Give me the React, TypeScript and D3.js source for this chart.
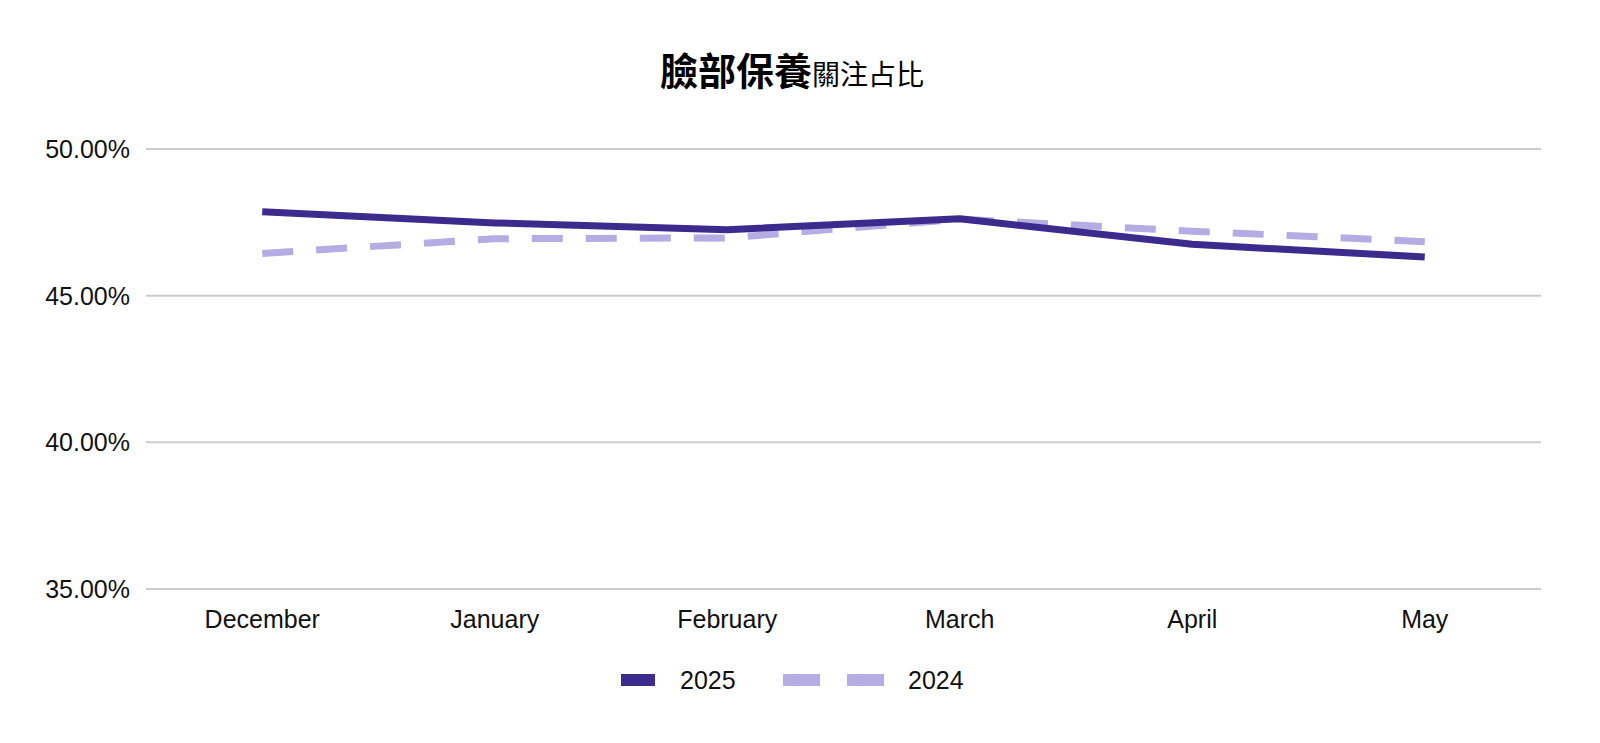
import React from "react";
import * as d3 from "d3";

const months = ["December", "January", "February", "March", "April", "May"];
const values2025 = [47.86, 47.48, 47.25, 47.62, 46.75, 46.32];
const values2024 = [46.44, 46.94, 46.97, 47.61, 47.2, 46.84];
const yTicks = [35, 40, 45, 50];
const legendLabels = ["2025", "2024"];

const W = 1600;
const H = 743;
const FONT = "'Liberation Sans', Arial, sans-serif";
const C2025 = "#3c2a8c";
const C2024 = "#b4ace2";

export default function App() {
  const x = d3.scaleBand<string>().domain(months).range([146, 1541]);
  const y = d3.scaleLinear().domain([35, 50]).range([589, 149]);
  const cx = (m: string) => (x(m) as number) + x.bandwidth() / 2;
  const line = d3
    .line<number>()
    .x((_, i) => cx(months[i]))
    .y((d) => y(d))
    .curve(d3.curveLinear);

  return (
    <svg
      width={W}
      height={H}
      style={{ position: "absolute", left: 0, top: 0, background: "#fff" }}
      fontFamily={FONT}
    >
      <rect x={0} y={0} width={W} height={H} fill="#fff" />
      <text x={792} y={85} textAnchor="middle" fill="#000">
        <tspan fontSize={38} fontWeight="bold" fontFamily="'Noto Sans CJK TC', sans-serif">
          臉部保養
        </tspan>
        <tspan fontSize={28} fontFamily="'Noto Sans CJK TC', sans-serif">
          關注占比
        </tspan>
      </text>
      {yTicks.map((t) => (
        <g key={t}>
          <line x1={146} x2={1541} y1={y(t)} y2={y(t)} stroke="#cccccc" strokeWidth={2} />
          <text x={130} y={y(t) + 9} textAnchor="end" fontSize={25} fill="#111">
            {t.toFixed(2)}%
          </text>
        </g>
      ))}
      {months.map((m) => (
        <text key={m} x={cx(m)} y={628} textAnchor="middle" fontSize={25} fill="#111">
          {m}
        </text>
      ))}
      <path d={line(values2024) || ""} fill="none" stroke={C2024} strokeWidth={7} strokeDasharray="31 23" />
      <path d={line(values2025) || ""} fill="none" stroke={C2025} strokeWidth={7} strokeLinejoin="round" />
      <g>
        <rect x={621} y={674} width={34} height={12} fill={C2025} />
        <text x={680} y={689} fontSize={25} fill="#111">{legendLabels[0]}</text>
        <rect x={783} y={674} width={37} height={12} fill={C2024} />
        <rect x={847} y={674} width={37} height={12} fill={C2024} />
        <text x={908} y={689} fontSize={25} fill="#111">{legendLabels[1]}</text>
      </g>
    </svg>
  );
}
